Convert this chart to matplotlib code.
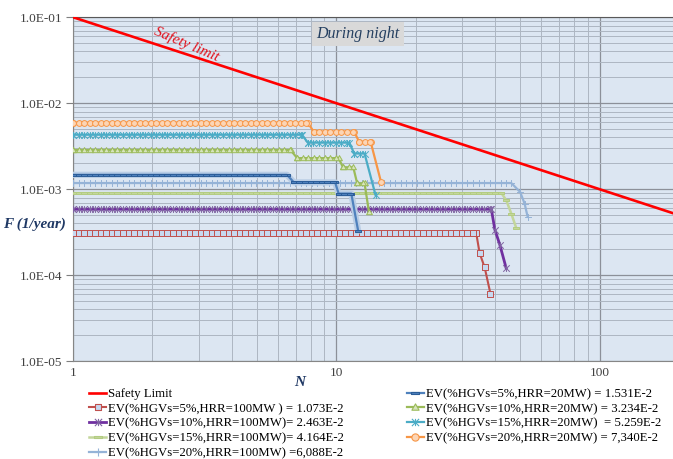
import numpy as np
import matplotlib
matplotlib.use("Agg")
import matplotlib.pyplot as plt
import matplotlib.colors as mcolors
from matplotlib import patheffects, ticker
from matplotlib.path import Path
from matplotlib.lines import Line2D
from matplotlib.transforms import Affine2D, IdentityTransform

# --- F-N curves (N = fatalities, F = frequency per year) ---
safety_n = [1, 190]
safety_f = [0.1, 0.1 / 190]

n_100mw_5 = [1, 34.0, 35.0, 36.6, 38.5]
f_100mw_5 = [3.08e-4, 3.08e-4, 1.82e-4, 1.23e-4, 6.1e-5]

n_100mw_10 = [1, 38.8, 40.0, 41.8, 44.2]
f_100mw_10 = [5.85e-4, 5.85e-4, 3.4e-4, 2.25e-4, 1.2e-4]

n_100mw_15 = [1, 42.4, 44.2, 46.2, 48.3]
f_100mw_15 = [9.0e-4, 9.0e-4, 7.45e-4, 5.2e-4, 3.5e-4]

n_100mw_20 = [1, 46.2, 49.9, 51.9, 53.3]
f_100mw_20 = [1.18e-3, 1.18e-3, 9.3e-4, 6.8e-4, 4.77e-4]

n_20mw_5 = [1, 6.5, 6.9, 9.9, 10.2, 11.4, 12.1]
f_20mw_5 = [1.47e-3, 1.47e-3, 1.2e-3, 1.2e-3, 8.9e-4, 8.9e-4, 3.3e-4]

n_20mw_10 = [1, 6.7, 7.1, 10.2, 10.6, 11.6, 12.0, 12.8, 13.3]
f_20mw_10 = [2.86e-3, 2.86e-3, 2.3e-3, 2.3e-3, 1.8e-3, 1.8e-3, 1.17e-3, 1.17e-3, 5.5e-4]

n_20mw_15 = [1, 7.4, 7.8, 11.2, 11.7, 12.8, 14.1]
f_20mw_15 = [4.3e-3, 4.3e-3, 3.48e-3, 3.48e-3, 2.6e-3, 2.6e-3, 8.5e-4]

n_20mw_20 = [1, 7.8, 8.2, 11.7, 12.2, 13.5, 14.8]
f_20mw_20 = [5.94e-3, 5.94e-3, 4.67e-3, 4.67e-3, 3.56e-3, 3.56e-3, 1.2e-3]

labels = [
    "Safety Limit",
    "EV(%HGVs=5%,HRR=100MW ) = 1.073E-2",
    "EV(%HGVs=10%,HRR=100MW)= 2.463E-2",
    "EV(%HGVs=15%,HRR=100MW)= 4.164E-2",
    "EV(%HGVs=20%,HRR=100MW) =6,088E-2",
    "EV(%HGVs=5%,HRR=20MW) = 1.531E-2",
    "EV(%HGVs=10%,HRR=20MW) = 3.234E-2",
    "EV(%HGVs=15%,HRR=20MW)  = 5.259E-2",
    "EV(%HGVs=20%,HRR=20MW) = 7,340E-2",
]

# marker shapes in unit coordinates
M, L = Path.MOVETO, Path.LINETO
SQUARE = Path([(-1, -1), (1, -1), (1, 1), (-1, 1), (-1, -1)], closed=True)
STAR = Path([(-1, -1), (1, 1), (-1, 1), (1, -1), (0, -1), (0, 1)], [M, L, M, L, M, L])
PLUS = Path([(-1, 0), (1, 0), (0, -1), (0, 1)], [M, L, M, L])
TRIANGLE = Path([(0, 1), (-1, -0.75), (1, -0.75), (0, 1)], closed=True)
CIRCLE = Path.unit_circle()
DASH = Path([(-1, -0.3), (1, -0.3), (1, 0.3), (-1, 0.3), (-1, -0.3)], closed=True)


class MarkerTrail(patheffects.AbstractPathEffect):
    """Draw the line, then markers at each vertex and evenly along flat runs."""

    def __init__(self, marker, size, edgecolor, facecolor=None, spacing=4.0, lw=0.7):
        super().__init__()
        self._marker = marker
        self._size = size
        self._edge = edgecolor
        self._face = None if facecolor is None else mcolors.to_rgba(facecolor)
        self._spacing = spacing
        self._lw = lw

    def draw_path(self, renderer, gc, tpath, affine, rgbFace=None):
        renderer.draw_path(gc, tpath, affine, rgbFace)
        xy = affine.transform(tpath.vertices)
        step = renderer.points_to_pixels(self._spacing)
        pts = [xy]
        for (x0, y0), (x1, y1) in zip(xy[:-1], xy[1:]):
            if abs(y1 - y0) < 0.5 and abs(x1 - x0) > step:
                xs = np.arange(x0, x1, step)
                pts.append(np.column_stack([xs, np.full_like(xs, y0)]))
        pts = np.vstack(pts)
        gc0 = renderer.new_gc()
        gc0.copy_properties(gc)
        gc0.set_foreground(self._edge)
        gc0.set_linewidth(self._lw)
        gc0.set_dashes(0, None)
        scale = Affine2D().scale(renderer.points_to_pixels(self._size) / 2)
        renderer.draw_markers(gc0, self._marker, scale, Path(pts),
                              IdentityTransform(), self._face)
        gc0.restore()


plt.rcParams["font.family"] = ["Liberation Serif", "DejaVu Serif"]

fig = plt.figure(figsize=(6.73, 4.59), dpi=100)
ax = fig.add_axes([0.1085, 0.213, 0.8915, 0.7495])
ax.set_facecolor("#dce6f2")

series = [
    # n, f, line colour, lw, marker, size, edge, face, glow
    (n_100mw_5, f_100mw_5, "#c0504d", 1.5, SQUARE, 4.0, "#c0504d", "#c6d9f1", None),
    (n_100mw_10, f_100mw_10, "#7030a0", 2.0, STAR, 4.2, "#8064a2", None, None),
    (n_100mw_15, f_100mw_15, "#c3d69b", 1.8, DASH, 4.2, "#b3cc82", "#c3d69b", None),
    (n_100mw_20, f_100mw_20, "#95b3d7", 1.6, PLUS, 4.6, "#95b3d7", None, None),
    (n_20mw_5, f_20mw_5, "#4f81bd", 1.6, DASH, 4.2, "#2c5d98", "#4f81bd", "#b9cde5"),
    (n_20mw_10, f_20mw_10, "#9bbb59", 1.6, TRIANGLE, 4.2, "#9bbb59", "#d7e4bd", None),
    (n_20mw_15, f_20mw_15, "#4bacc6", 1.6, STAR, 4.2, "#4bacc6", None, None),
    (n_20mw_20, f_20mw_20, "#f79646", 1.6, CIRCLE, 4.2, "#f79646", "#fcd5b5", None),
]

handles = []
ax.plot(safety_n, safety_f, color="#ff0000", lw=1.9, zorder=4)
handles.append(Line2D([], [], color="#ff0000", lw=1.9))

for n, f, color, lw, marker, size, edge, face, glow in series:
    effects = []
    if glow:
        effects.append(patheffects.Stroke(linewidth=4.5, foreground=glow))
    effects.append(MarkerTrail(marker, size, edge, face))
    ln, = ax.plot(n, f, color=color, lw=lw, zorder=3)
    ln.set_path_effects(effects)
    handles.append(Line2D([], [], color=color, lw=lw, marker=marker,
                          markersize=size + 1, markeredgecolor=edge,
                          markerfacecolor=face if face else "none",
                          markeredgewidth=0.8))

ax.set_xscale("log")
ax.set_yscale("log")
ax.set_xlim(1, 190)
ax.set_ylim(1e-5, 1e-1)

ax.xaxis.set_major_formatter(ticker.FuncFormatter(lambda v, p: f"{v:g}"))
ax.yaxis.set_major_formatter(ticker.FuncFormatter(lambda v, p: f"{v:.1E}"))
ax.xaxis.set_minor_formatter(ticker.NullFormatter())
ax.yaxis.set_minor_formatter(ticker.NullFormatter())
ax.yaxis.set_minor_locator(ticker.LogLocator(subs=np.arange(2, 10), numticks=20))
ax.xaxis.set_minor_locator(ticker.LogLocator(subs=np.arange(2, 10), numticks=20))

ax.grid(which="major", color="#8c9099", lw=0.9)
ax.grid(which="minor", color="#adb6c2", lw=0.7)
ax.set_axisbelow(True)
ax.tick_params(which="minor", length=0)
ax.tick_params(which="major", length=5, color="#7f7f7f", labelsize=9.5,
               labelcolor="#404040", pad=3)
ax.tick_params(axis="x", which="major", length=0, pad=4)

for side in ["left", "bottom"]:
    ax.spines[side].set_color("#868686")
ax.spines["top"].set_color("#595959")
ax.spines["right"].set_visible(False)

fig.text(300 / 673, 1 - 382 / 459, "N", fontsize=11, fontweight="bold",
         fontstyle="italic", color="#1f3864", ha="center", va="center")
fig.text(0.005, 1 - 224 / 459, "F (1/year)", fontsize=11, fontweight="bold",
         fontstyle="italic", color="#1f3864", va="center", ha="left")

ax.text(187 / 673, 1 - 44 / 459, "Safety limit", transform=fig.transFigure,
        fontsize=11, fontstyle="italic", color="#e2101a", rotation=-23,
        ha="center", va="center")
ax.text(358 / 673, 1 - 34 / 459, "During night", transform=fig.transFigure,
        fontsize=11.5, fontstyle="italic", color="#243f60", ha="center", va="center",
        bbox=dict(boxstyle="square,pad=0.25", fc="#d9d9d9", ec="none"))

fig.legend(handles, labels, ncol=2, loc="upper left",
           bbox_to_anchor=(89 / 673, 1 - 388 / 459), frameon=False,
           fontsize=9.2, handlelength=1.35, handletextpad=0.15,
           labelspacing=0.22, columnspacing=4.9, borderpad=0,
           borderaxespad=0, numpoints=1)

fig.savefig("out.png", dpi=100)
